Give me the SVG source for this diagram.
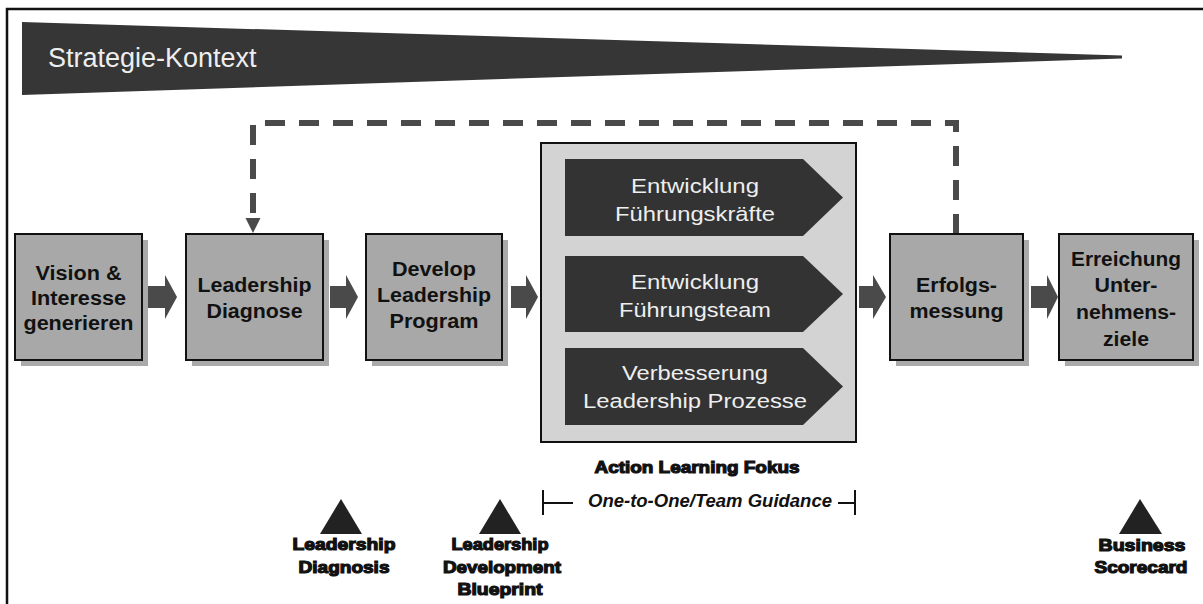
<svg xmlns="http://www.w3.org/2000/svg" width="1203" height="604" viewBox="0 0 1203 604">
<style>
.box{fill:#a8a8a8;stroke:#111;stroke-width:2}
.shadow{fill:#8e8e8e;opacity:0.75}
.bt{font-family:"Liberation Sans",Arial,sans-serif;font-size:19.5px;font-weight:bold;fill:#111;text-anchor:middle}
.pent{fill:#333}
.pt{font-family:"Liberation Sans",Arial,sans-serif;font-size:20.5px;fill:#eeeeee;text-anchor:middle}
.arrow{fill:#4a4a4a}
.heavy{font-family:"Liberation Sans",Arial,sans-serif;font-size:17px;font-weight:bold;fill:#111;stroke:#111;stroke-width:1.2;text-anchor:middle}
.tri{fill:#222}
</style>
<rect x="0" y="0" width="1203" height="604" fill="#fff"/>
<rect x="7" y="9" width="1206" height="610" fill="none" stroke="#111" stroke-width="2.5"/>

<g id="strategie-kontext">
<polygon points="22,22 1122,55.5 1122,58.5 22,95" fill="#363636"/>
<text x="48" y="67" font-family="Liberation Sans, Arial, sans-serif" font-size="27" fill="#eeeeee">Strategie-Kontext</text>
</g>

<g id="connectors">
<path d="M956,234 V123 H253 V219" fill="none" stroke="#4a4a4a" stroke-width="6" stroke-dasharray="20 14"/>
<polygon points="245.5,218 260.5,218 253,233" fill="#4a4a4a"/>
<polygon class="arrow" points="148,286 165,286 165,275 177,297 165,319 165,308 148,308"/>
<polygon class="arrow" points="330,286 346,286 346,275 358,297 346,319 346,308 330,308"/>
<polygon class="arrow" points="511,286 526,286 526,275 538,297 526,319 526,308 511,308"/>
<polygon class="arrow" points="859,286 873,286 873,275 886,297 873,319 873,308 859,308"/>
<polygon class="arrow" points="1031,286 1047,286 1047,275 1058,297 1047,319 1047,308 1031,308"/>
</g>

<g id="vision">
<rect class="shadow" x="21" y="240" width="127" height="126"/>
<rect class="box" x="15" y="234" width="127" height="126"/>
<text class="bt" x="78.5" y="280" textLength="86" lengthAdjust="spacingAndGlyphs">Vision &amp;</text>
<text class="bt" x="78.5" y="305" textLength="95" lengthAdjust="spacingAndGlyphs">Interesse</text>
<text class="bt" x="78.5" y="330" textLength="110" lengthAdjust="spacingAndGlyphs">generieren</text>
</g>

<g id="leadership-diagnose">
<rect class="shadow" x="192" y="240" width="137" height="126"/>
<rect class="box" x="186" y="234" width="137" height="126"/>
<text class="bt" x="254.5" y="292" textLength="114" lengthAdjust="spacingAndGlyphs">Leadership</text>
<text class="bt" x="254.5" y="318" textLength="96" lengthAdjust="spacingAndGlyphs">Diagnose</text>
</g>

<g id="develop">
<rect class="shadow" x="372" y="240" width="136" height="126"/>
<rect class="box" x="366" y="234" width="136" height="126"/>
<text class="bt" x="434" y="276" textLength="84" lengthAdjust="spacingAndGlyphs">Develop</text>
<text class="bt" x="434" y="302" textLength="114" lengthAdjust="spacingAndGlyphs">Leadership</text>
<text class="bt" x="434" y="328" textLength="89" lengthAdjust="spacingAndGlyphs">Program</text>
</g>

<g id="action-learning-box">
<rect x="541" y="143" width="315" height="299" fill="#d3d3d3" stroke="#111" stroke-width="2"/>
<polygon class="pent" points="565,159 803,159 843,197.5 803,236 565,236"/>
<text class="pt" x="695" y="193" textLength="128" lengthAdjust="spacingAndGlyphs">Entwicklung</text>
<text class="pt" x="695" y="221" textLength="160" lengthAdjust="spacingAndGlyphs">Führungskräfte</text>
<polygon class="pent" points="565,256 803,256 843,294 803,332 565,332"/>
<text class="pt" x="695" y="289" textLength="128" lengthAdjust="spacingAndGlyphs">Entwicklung</text>
<text class="pt" x="695" y="317" textLength="152" lengthAdjust="spacingAndGlyphs">Führungsteam</text>
<polygon class="pent" points="565,348 803,348 843,386.5 803,425 565,425"/>
<text class="pt" x="695" y="380" textLength="146" lengthAdjust="spacingAndGlyphs">Verbesserung</text>
<text class="pt" x="695" y="408" textLength="224" lengthAdjust="spacingAndGlyphs">Leadership Prozesse</text>
</g>

<g id="erfolgsmessung">
<rect class="shadow" x="896" y="240" width="133" height="126"/>
<rect class="box" x="890" y="234" width="133" height="126"/>
<text class="bt" x="956.5" y="292" textLength="81" lengthAdjust="spacingAndGlyphs">Erfolgs-</text>
<text class="bt" x="956.5" y="318" textLength="94" lengthAdjust="spacingAndGlyphs">messung</text>
</g>

<g id="erreichung">
<rect class="shadow" x="1065" y="240" width="134" height="126"/>
<rect class="box" x="1059" y="234" width="134" height="126"/>
<text class="bt" x="1126" y="266" textLength="110" lengthAdjust="spacingAndGlyphs">Erreichung</text>
<text class="bt" x="1126" y="292" textLength="63" lengthAdjust="spacingAndGlyphs">Unter-</text>
<text class="bt" x="1126" y="319" textLength="100" lengthAdjust="spacingAndGlyphs">nehmens-</text>
<text class="bt" x="1126" y="346" textLength="46" lengthAdjust="spacingAndGlyphs">ziele</text>
</g>

<g id="action-learning-fokus">
<text class="heavy" x="697" y="473" font-size="18" textLength="205" lengthAdjust="spacingAndGlyphs">Action Learning Fokus</text>
<path d="M543,490 V515 M543,503 H573 M838,503 H855 M855,490 V515" fill="none" stroke="#111" stroke-width="2"/>
<text x="710" y="507" font-family="Liberation Sans, Arial, sans-serif" font-size="18" font-style="italic" font-weight="bold" fill="#111" text-anchor="middle" textLength="244" lengthAdjust="spacingAndGlyphs">One-to-One/Team Guidance</text>
</g>

<g id="leadership-diagnosis">
<polygon class="tri" points="320,534 341,499 362,534"/>
<text class="heavy" x="344" y="550" textLength="103" lengthAdjust="spacingAndGlyphs">Leadership</text>
<text class="heavy" x="344" y="573" textLength="91" lengthAdjust="spacingAndGlyphs">Diagnosis</text>
</g>

<g id="leadership-development-blueprint">
<polygon class="tri" points="479,534 500,499 521,534"/>
<text class="heavy" x="500" y="550" textLength="97" lengthAdjust="spacingAndGlyphs">Leadership</text>
<text class="heavy" x="502" y="573" textLength="118" lengthAdjust="spacingAndGlyphs">Development</text>
<text class="heavy" x="500" y="595" textLength="85" lengthAdjust="spacingAndGlyphs">Blueprint</text>
</g>

<g id="business-scorecard">
<polygon class="tri" points="1119,534 1140,499 1162,534"/>
<text class="heavy" x="1142" y="551" textLength="87" lengthAdjust="spacingAndGlyphs">Business</text>
<text class="heavy" x="1141" y="573" textLength="93" lengthAdjust="spacingAndGlyphs">Scorecard</text>
</g>
</svg>
